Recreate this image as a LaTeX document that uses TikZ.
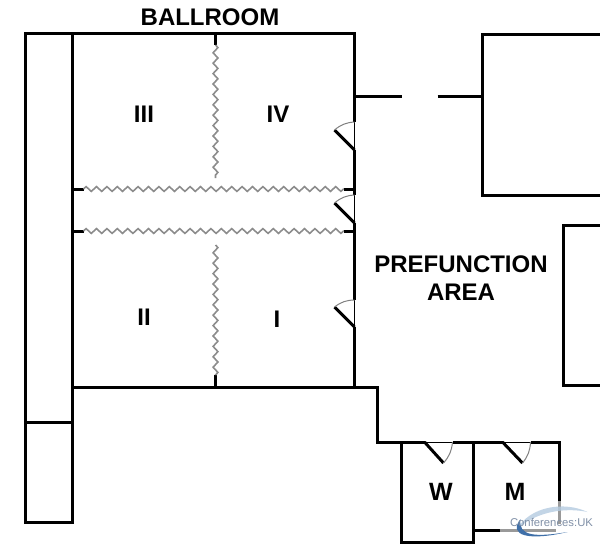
\documentclass[tikz,border=0pt]{standalone}
\usepackage{fontspec}
\setmainfont{Liberation Sans}
\usetikzlibrary{decorations.pathmorphing}
\definecolor{colorfold}{HTML}{8C8C8C}
\definecolor{colorarc}{HTML}{808080}
\definecolor{colorlogo}{HTML}{7F8FA6}
\definecolor{colorswoosh}{HTML}{3F6FA8}
\definecolor{colorswooshlight}{HTML}{B4CBE0}
\tikzset{
  wall/.style={black, line width=3pt, line join=miter},
  wallfaded/.style={black!40, line width=3pt},
  doorway/.style={black, line width=0.8pt},
  leaf/.style={black, line width=3pt},
  swing/.style={colorarc, line width=1pt},
  foldwall/.style={colorfold, line width=1.6pt, decorate,
    decoration={zigzag, segment length=10.4pt, amplitude=2.4pt}},
  roomname/.style={font=\bfseries\fontsize{24}{28}\selectfont, align=center, inner sep=0pt},
  toilet/.style={font=\bfseries\fontsize{25}{28}\selectfont, inner sep=0pt}
}
\begin{document}
\begin{tikzpicture}[x=1pt, y=-1pt]
\useasboundingbox (0.5,0) rectangle (600.5,544);
\draw[wall] (26,422) -- (73,422);
\draw[wall] (73,33) -- (26,33) -- (26,522) -- (73,522) -- (73,33);
\draw[wall] (73,33) -- (355,33) -- (355,122);
\draw[wall] (355,150) -- (355,195);
\draw[wall] (355,223) -- (355,300);
\draw[wall] (355,327) -- (355,387);
\draw[wall] (73,387) -- (378,387) -- (378,442) -- (425,442);
\draw[wall] (453,442) -- (503,442);
\draw[wall] (531,442) -- (560,442) -- (560,501);
\draw[wallfaded] (560,501) -- (560,524);
\draw[wall] (402,442) -- (402,542) -- (474,542) -- (474,442);
\draw[wall] (474,530) -- (500,530);
\draw[wallfaded] (500,530) -- (556,530);
\draw[wall] (355,96) -- (402,96);
\draw[wall] (438,96) -- (483,96);
\draw[wall] (601,34) -- (483,34) -- (483,195) -- (601,195);
\draw[wall] (601,225) -- (564,225) -- (564,385) -- (601,385);
% folding partitions
\draw[wall] (216,33) -- (216,45);
\draw[wall] (216,375) -- (216,387);
\draw[wall] (73,189) -- (84,189);
\draw[wall] (344,189) -- (355,189);
\draw[wall] (73,231) -- (84,231);
\draw[wall] (344,231) -- (355,231);
\draw[foldwall] (216,45) -- (216,178);
\draw[foldwall] (216,245) -- (216,375);
\draw[foldwall] (84,189) -- (344,189);
\draw[foldwall] (84,231) -- (344,231);
% doors
\draw[doorway] (355,122) -- (355,150);
\draw[leaf] (355,150) -- (335,130);
\draw[swing] (335,130) to [bend left=18] (355,122);
\draw[doorway] (355,195) -- (355,223);
\draw[leaf] (355,223) -- (335,203);
\draw[swing] (335,203) to [bend left=18] (355,195);
\draw[doorway] (355,300) -- (355,327);
\draw[leaf] (355,327) -- (335,307);
\draw[swing] (335,307) to [bend left=18] (355,300);
\draw[doorway] (425,442) -- (453,442);
\draw[leaf] (425,442) -- (444,463);
\draw[swing] (444,463) to [bend right=18] (453,442);
\draw[doorway] (503,442) -- (531,442);
\draw[leaf] (503,442) -- (523,463);
\draw[swing] (523,463) to [bend right=18] (531,442);
% labels
\node[roomname] (ballroom) at (210.5,17) {BALLROOM};
\node[roomname] (roomiii) at (144.5,114) {III};
\node[roomname] (roomiv) at (278.5,114) {IV};
\node[roomname] (roomii) at (144.5,317) {II};
\node[roomname] (roomi) at (277.5,319) {I};
\node[roomname] (prefunction) at (461.5,278) {PREFUNCTION\\AREA};
\node[toilet] (roomw) at (441.5,492) {W};
\node[toilet] (roomm) at (515.5,492) {M};
% logo
\fill[colorswooshlight, opacity=0.8] (517,530) .. controls (530,506) and (565,501) .. (588,512)
  .. controls (565,507) and (535,512) .. (517,530);
\fill[colorswoosh] (521,519) .. controls (508,536) and (530,541) .. (568,532)
  .. controls (538,537) and (518,537) .. (521,519);
\node[text=colorlogo, font=\fontsize{11.3}{13}\selectfont, inner sep=0pt] (logo) at (552,522) {Conferences:UK};
\end{tikzpicture}
\end{document}
